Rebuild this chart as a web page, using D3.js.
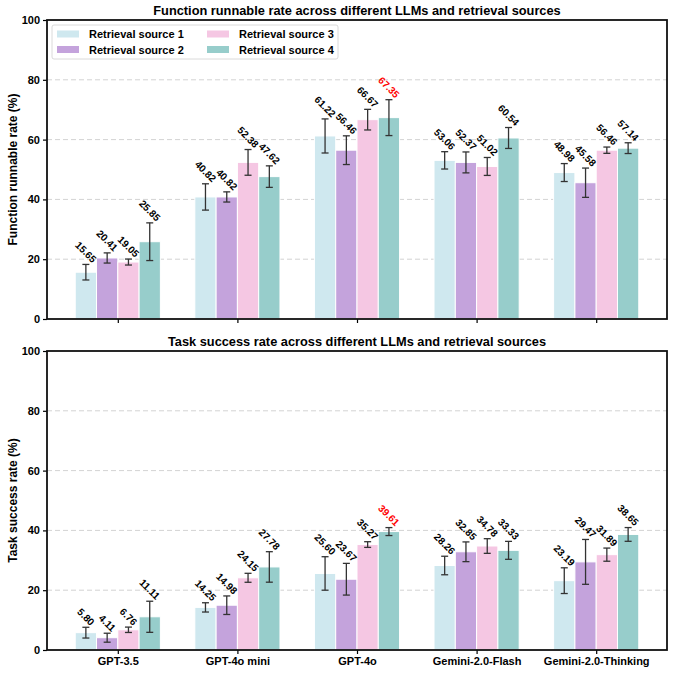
<!DOCTYPE html>
<html>
<head>
<meta charset="utf-8">
<script src="https://cdn.jsdelivr.net/npm/d3@7"></script>
<style>
  body { margin: 0; background: #fff; }
  text { font-family: "Liberation Sans", Arial, Helvetica, sans-serif; font-weight: bold; }
</style>
</head>
<body>
<div id="wrapper"></div>
<script>
var models = ["GPT-3.5", "GPT-4o mini", "GPT-4o", "Gemini-2.0-Flash", "Gemini-2.0-Thinking"];
var sources = ["Retrieval source 1", "Retrieval source 2", "Retrieval source 3", "Retrieval source 4"];
var colors = ["#cfe8ef", "#c4a3dc", "#f5c7e3", "#97cdcb"];
var yTicks = [0, 20, 40, 60, 80, 100];

// rows = models, columns = retrieval sources
var runnable = [
    [15.65, 20.41, 19.05, 25.85],
    [40.82, 40.82, 52.38, 47.62],
    [61.22, 56.46, 66.67, 67.35],
    [53.06, 52.37, 51.02, 60.54],
    [48.98, 45.58, 56.46, 57.14]
];
var runnableErr = [
    [2.6, 1.7, 1.0, 6.3],
    [4.4, 1.7, 4.3, 3.6],
    [5.7, 4.8, 3.45, 6.0],
    [2.9, 3.5, 3.0, 3.5],
    [3.0, 4.9, 1.05, 1.8]
];
var success = [
    [5.80, 4.11, 6.76, 11.11],
    [14.25, 14.98, 24.15, 27.78],
    [25.60, 23.67, 35.27, 39.61],
    [28.26, 32.85, 34.78, 33.33],
    [23.19, 29.47, 31.89, 38.65]
];
var successErr = [
    [1.8, 1.5, 0.9, 5.2],
    [1.55, 3.1, 1.5, 5.1],
    [5.6, 5.3, 0.95, 1.33],
    [3.1, 3.3, 2.45, 3.0],
    [4.3, 7.5, 2.2, 2.3]
];

var W = 674, H = 674;
var svg = d3.select('#wrapper')
            .append('svg')
            .attr('width', W)
            .attr('height', H);

var x = d3.scaleLinear().domain([-0.592, 4.592]).range([47, 667]);
var barW = 0.178;

var panels = [
    {title: "Function runnable rate across different LLMs and retrieval sources",
     ylabel: "Function runnable rate (%)", values: runnable, errs: runnableErr,
     top: 20, bottom: 319, legend: true, xlabels: false},
    {title: "Task success rate across different LLMs and retrieval sources",
     ylabel: "Task success rate (%)", values: success, errs: successErr,
     top: 351, bottom: 650, legend: false, xlabels: true}
];

panels.forEach(function(p) {
    var y = d3.scaleLinear().domain([0, 100]).range([p.bottom, p.top]);
    var g = svg.append("g");

    // grid
    g.selectAll(".grid")
     .data(yTicks.filter(function(t) { return t > 0 && t < 100; }))
     .enter().append("line")
     .attr("x1", x.range()[0]).attr("x2", x.range()[1])
     .attr("y1", function(d) { return y(d); })
     .attr("y2", function(d) { return y(d); })
     .attr("stroke", "#d3d3d3")
     .attr("stroke-width", 1)
     .attr("stroke-dasharray", "5,3");

    // flatten bars
    var maxV = d3.max(p.values, function(r) { return d3.max(r); });
    var bars = [];
    p.values.forEach(function(row, i) {
        row.forEach(function(v, j) {
            bars.push({m: i, s: j, v: v, e: p.errs[i][j], cx: i + (j - 1.5) * barW, best: v === maxV});
        });
    });

    g.selectAll(".bar")
     .data(bars)
     .enter().append("rect")
     .attr("x", function(d) { return x(d.cx - barW / 2); })
     .attr("width", function(d) { return x(barW) - x(0); })
     .attr("y", function(d) { return y(d.v); })
     .attr("height", function(d) { return y(0) - y(d.v); })
     .attr("fill", function(d) { return colors[d.s]; })
     .attr("stroke", "#fff")
     .attr("stroke-width", 1);

    // error bars
    var eb = g.selectAll(".err").data(bars).enter().append("g").attr("stroke", "#333").attr("stroke-width", 1.3);
    eb.append("line")
      .attr("x1", function(d) { return x(d.cx); }).attr("x2", function(d) { return x(d.cx); })
      .attr("y1", function(d) { return y(d.v - d.e); }).attr("y2", function(d) { return y(d.v + d.e); });
    eb.append("line")
      .attr("x1", function(d) { return x(d.cx) - 3.5; }).attr("x2", function(d) { return x(d.cx) + 3.5; })
      .attr("y1", function(d) { return y(d.v + d.e); }).attr("y2", function(d) { return y(d.v + d.e); });
    eb.append("line")
      .attr("x1", function(d) { return x(d.cx) - 3.5; }).attr("x2", function(d) { return x(d.cx) + 3.5; })
      .attr("y1", function(d) { return y(d.v - d.e); }).attr("y2", function(d) { return y(d.v - d.e); });

    // value labels, rotated
    g.selectAll(".val")
     .data(bars)
     .enter().append("text")
     .text(function(d) { return d.v.toFixed(2); })
     .attr("font-size", "10px")
     .attr("fill", function(d) { return d.best ? "#ff0000" : "#000"; })
     .attr("text-anchor", "middle")
     .attr("dominant-baseline", "central")
     .attr("transform", function(d) {
         var L = this.getComputedTextLength();
         var cy = y(d.v + d.e) - 1 - (L + 7) / 2 * 0.7071;
         return "translate(" + x(d.cx) + "," + cy + ") rotate(45)";
     });

    // axes
    var yAxis = d3.axisLeft(y).tickValues(yTicks).tickSize(4).tickPadding(3);
    var ya = g.append("g").attr("transform", "translate(" + x.range()[0] + ",0)").call(yAxis);
    ya.select(".domain").remove();
    ya.selectAll("text").attr("font-size", "11px").attr("fill", "#000");
    ya.selectAll("line").attr("stroke", "#000").attr("stroke-width", 1.2);

    var xAxis = d3.axisBottom(x).tickValues(d3.range(models.length)).tickSize(4).tickPadding(3)
                  .tickFormat(function(i) { return p.xlabels ? models[i] : ""; });
    var xa = g.append("g").attr("transform", "translate(0," + p.bottom + ")").call(xAxis);
    xa.select(".domain").remove();
    xa.selectAll("text").attr("font-size", "11px").attr("fill", "#000");
    xa.selectAll("line").attr("stroke", "#000").attr("stroke-width", 1.2);

    // frame
    g.append("rect")
     .attr("x", x.range()[0]).attr("y", p.top)
     .attr("width", x.range()[1] - x.range()[0]).attr("height", p.bottom - p.top)
     .attr("fill", "none").attr("stroke", "#111").attr("stroke-width", 1.8);

    // title
    g.append("text")
     .attr("x", (x.range()[0] + x.range()[1]) / 2).attr("y", p.top - 5)
     .attr("text-anchor", "middle")
     .attr("font-size", "12.8px")
     .text(p.title);

    // y label
    g.append("text")
     .attr("transform", "translate(13," + (p.top + p.bottom) / 2 + ") rotate(-90)")
     .attr("text-anchor", "middle")
     .attr("dominant-baseline", "central")
     .attr("font-size", "12px")
     .text(p.ylabel);

    if (p.legend) {
        var lg = g.append("g").attr("transform", "translate(52,25)");
        lg.append("rect").attr("width", 286).attr("height", 34).attr("rx", 2)
          .attr("fill", "#fff").attr("fill-opacity", 0.85)
          .attr("stroke", "#d0d0d0").attr("stroke-width", 0.8);
        var items = lg.selectAll(".li").data(sources).enter().append("g")
          .attr("transform", function(d, i) {
              return "translate(" + (Math.floor(i / 2) * 150 + 5) + "," + ((i % 2) * 15.5 + 9) + ")";
          });
        items.append("rect").attr("y", -3.5).attr("width", 22).attr("height", 7)
             .attr("fill", function(d, i) { return colors[i]; });
        items.append("text").attr("x", 32).attr("dominant-baseline", "central")
             .attr("font-size", "11px").text(function(d) { return d; });
    }
});
</script>
</body>
</html>
